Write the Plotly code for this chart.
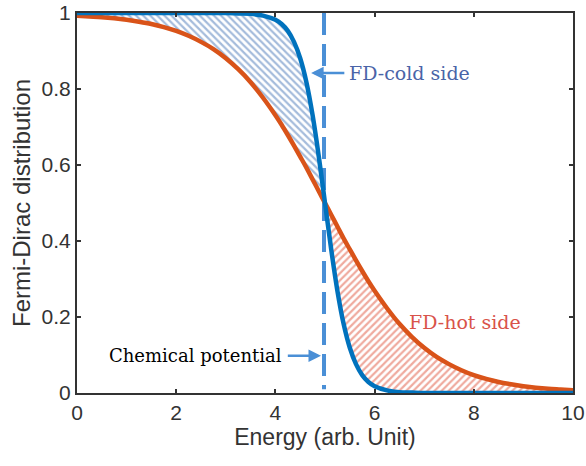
import plotly.graph_objects as go

# Energy grid (arb. unit)
energy = [0, 0.25, 0.5, 0.75, 1, 1.25, 1.5, 1.75, 2, 2.25, 2.5, 2.75, 3, 3.25, 3.5, 3.75,
          4, 4.125, 4.25, 4.375, 4.5, 4.625, 4.75, 4.875, 5, 5.125, 5.25, 5.375, 5.5, 5.625,
          5.75, 5.875, 6, 6.25, 6.5, 6.75, 7, 7.25, 7.5, 7.75, 8, 8.25, 8.5, 8.75, 9, 9.25,
          9.5, 9.75, 10]

# FD distribution, cold side (steep)
fd_cold = [1.000, 1.000, 1.000, 1.000, 1.000, 1.000, 1.000, 1.000, 1.000, 1.000, 1.000, 1.000,
           1.000, 0.999, 0.998, 0.993, 0.982, 0.971, 0.953, 0.924, 0.881, 0.818, 0.731, 0.622,
           0.500, 0.378, 0.269, 0.182, 0.119, 0.076, 0.047, 0.029, 0.018, 0.007, 0.002, 0.001,
           0.000, 0.000, 0.000, 0.000, 0.000, 0.000, 0.000, 0.000, 0.000, 0.000, 0.000, 0.000,
           0.000]

# FD distribution, hot side (gradual)
fd_hot = [0.993, 0.991, 0.989, 0.986, 0.982, 0.977, 0.971, 0.963, 0.953, 0.940, 0.924, 0.905,
          0.881, 0.852, 0.818, 0.777, 0.731, 0.706, 0.679, 0.651, 0.622, 0.593, 0.562, 0.531,
          0.500, 0.469, 0.438, 0.407, 0.378, 0.349, 0.321, 0.294, 0.269, 0.223, 0.182, 0.148,
          0.119, 0.095, 0.076, 0.060, 0.047, 0.037, 0.029, 0.023, 0.018, 0.014, 0.011, 0.009,
          0.007]

chem_potential = 4.98
x_ticks = [0, 2, 4, 6, 8, 10]
y_ticks = [0, 0.2, 0.4, 0.6, 0.8, 1]

BLUE = "#0072BD"
ORANGE = "#D95319"
LIGHTBLUE = "#4A8FD6"

split = energy.index(5)
xl, xr = energy[:split + 1], energy[split:]

fig = go.Figure()
fig.add_trace(go.Scatter(x=xl, y=fd_hot[:split + 1], mode="lines", line=dict(width=0),
                         line_shape="spline", showlegend=False, hoverinfo="skip"))
fig.add_trace(go.Scatter(x=xl, y=fd_cold[:split + 1], mode="lines", line=dict(width=0),
                         line_shape="spline", fill="tonexty", fillcolor="rgba(255,255,255,0)",
                         fillpattern=dict(shape="\\", fgcolor="#4A78B8", bgcolor="white",
                                          size=5, solidity=0.45),
                         showlegend=False, hoverinfo="skip"))
fig.add_trace(go.Scatter(x=xr, y=fd_cold[split:], mode="lines", line=dict(width=0),
                         line_shape="spline", showlegend=False, hoverinfo="skip"))
fig.add_trace(go.Scatter(x=xr, y=fd_hot[split:], mode="lines", line=dict(width=0),
                         line_shape="spline", fill="tonexty", fillcolor="rgba(255,255,255,0)",
                         fillpattern=dict(shape="/", fgcolor="#E0563E", bgcolor="white",
                                          size=5, solidity=0.45),
                         showlegend=False, hoverinfo="skip"))
fig.add_trace(go.Scatter(x=[chem_potential, chem_potential], y=[1, 0.01], mode="lines",
                         line=dict(color=LIGHTBLUE, width=4, dash="22px,9px"),
                         showlegend=False, hoverinfo="skip"))
fig.add_trace(go.Scatter(x=energy, y=fd_hot, mode="lines", line_shape="spline",
                         line=dict(color=ORANGE, width=4.5), showlegend=False))
fig.add_trace(go.Scatter(x=energy, y=fd_cold, mode="lines", line_shape="spline",
                         line=dict(color=BLUE, width=4.5), showlegend=False))

serif = "DejaVu Serif"
fig.add_annotation(x=4.72, y=0.842, ax=5.42, ay=0.842, axref="x", ayref="y",
                   xref="x", yref="y", text="", showarrow=True, arrowhead=2,
                   arrowsize=1, arrowwidth=2.5, arrowcolor=LIGHTBLUE)
fig.add_annotation(x=5.44, y=0.842, xref="x", yref="y", text="FD-cold side",
                   showarrow=False, xanchor="left",
                   font=dict(family=serif, size=19, color="#4A64A8"))
fig.add_annotation(x=6.65, y=0.187, xref="x", yref="y", text="FD-hot side",
                   showarrow=False, xanchor="left",
                   font=dict(family=serif, size=19, color="#D9534A"))
fig.add_annotation(x=4.17, y=0.098, xref="x", yref="y", text="Chemical potential",
                   showarrow=False, xanchor="right",
                   font=dict(family=serif, size=18, color="black"))
fig.add_annotation(x=4.92, y=0.098, ax=4.22, ay=0.098, axref="x", ayref="y",
                   xref="x", yref="y", text="", showarrow=True, arrowhead=2,
                   arrowsize=1, arrowwidth=2.5, arrowcolor=LIGHTBLUE)

axis_common = dict(showgrid=False, zeroline=False, showline=True, linecolor="#333333",
                   linewidth=2, mirror="ticks", ticks="inside", ticklen=4, tickwidth=1.5,
                   tickcolor="#333333", automargin=False,
                   tickfont=dict(family="Liberation Sans", size=21, color="#333333"))
fig.update_xaxes(range=[0, 10], tickvals=x_ticks, ticktext=[str(v) for v in x_ticks],
                 title=dict(text="Energy (arb. Unit)", standoff=6,
                            font=dict(family="Liberation Sans", size=23, color="#333333")),
                 **axis_common)
fig.update_yaxes(range=[0, 1], tickvals=y_ticks, ticktext=["0", "0.2", "0.4", "0.6", "0.8", "1"],
                 title=dict(text="Fermi-Dirac distribution", standoff=4,
                            font=dict(family="Liberation Sans", size=24, color="#333333")),
                 **axis_common)
fig.update_layout(width=586, height=466, autosize=False,
                  margin=dict(l=77, r=13, t=13, b=73),
                  plot_bgcolor="white", paper_bgcolor="white")

fig.write_html("out.html",
               config={"responsive": False, "displayModeBar": False},
               post_script="document.body.style.margin='0';document.body.style.overflow='hidden';")
